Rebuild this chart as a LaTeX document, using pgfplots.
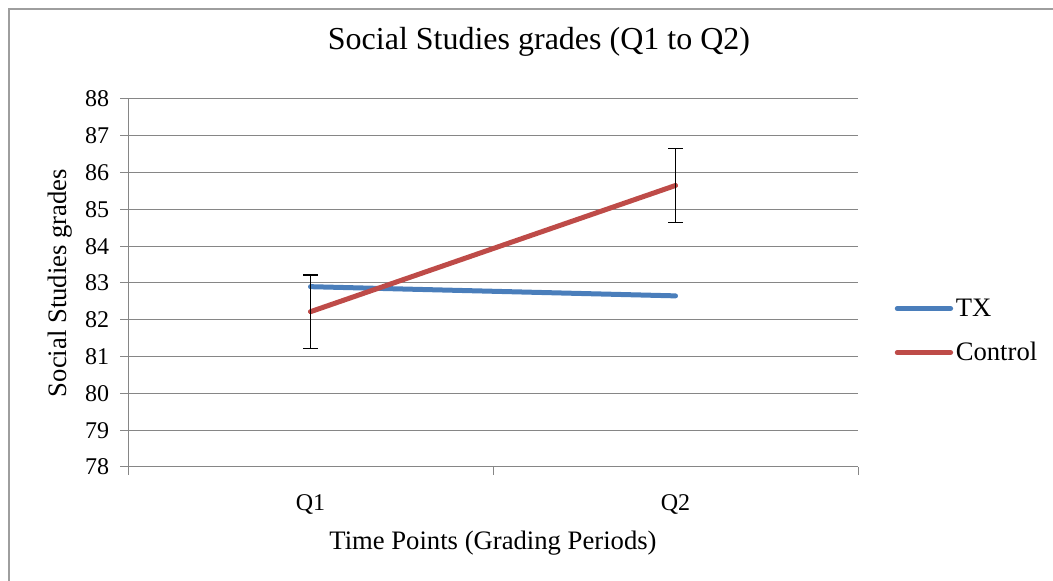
\documentclass[border=0pt]{standalone}
\usepackage{fontspec}
\setmainfont{Liberation Serif}
\usepackage{pgfplots}
\pgfplotsset{compat=1.18}
\definecolor{txblue}{HTML}{4A7EBB}
\definecolor{ctrlred}{HTML}{BE4B48}
\definecolor{gridgray}{HTML}{868686}
\begin{document}
\begin{tikzpicture}
\draw[color=gridgray!80, line width=1.1pt] (6.75pt,429pt) rectangle (810pt,-22pt);
\begin{axis}[at={(96pt,85.5pt)}, anchor=south west, scale only axis,
  width=547.5pt, height=276pt,
  xmin=0.5, xmax=2.5, ymin=78, ymax=88, ytick={78,...,88},
  xtick={1,2}, xticklabels={Q1,Q2},
  major x tick style={draw=none},
  minor xtick={0.5,1.5,2.5}, minor tick length=6pt,
  minor x tick style={draw=gridgray, line width=0.75pt},
  axis x line*=bottom, axis y line*=left,
  axis line style={draw=gridgray, line width=0.75pt, -},
  ymajorgrids, grid style={gridgray, line width=0.75pt},
  tick align=outside, major tick length=6pt,
  tick style={gridgray, line width=0.75pt},
  /pgf/number format/assume math mode=true,
  tick label style={font=\fontsize{18}{21.6}\selectfont, black},
  yticklabel style={inner sep=0pt, xshift=-8pt},
  xticklabel style={yshift=-11pt},
  title={Social Studies grades (Q1 to Q2)},
  title style={at={(axis description cs:0.563,1.133)}, anchor=center, font=\fontsize{24}{28.8}\selectfont},
  xlabel={Time Points (Grading Periods)},
  xlabel style={at={(axis description cs:0.5,-0.206)}, anchor=center, font=\fontsize{20}{24}\selectfont},
  ylabel={Social Studies grades},
  ylabel style={at={(axis description cs:-0.093,0.5)}, anchor=center, font=\fontsize{20}{24}\selectfont},
  legend image code/.code={\draw[#1, line cap=round] (0pt,0pt) -- (40pt,0pt);},
  legend style={draw=none, fill=none, at={(1.05,0.37)}, anchor=west,
    font=\fontsize{20}{24}\selectfont, row sep=14pt, inner sep=0pt},
  legend cell align=left,
]
\addplot[txblue, line width=3.75pt, line cap=round, forget plot] coordinates {(1,82.9) (2,82.65)};
\addplot[ctrlred, line width=3.75pt, line cap=round, forget plot,
  error bars/.cd, y dir=both, y explicit,
  error bar style={black, line width=1.1pt, line cap=butt},
  error mark options={black, mark size=5.5pt, line width=1.1pt, rotate=90}]
  table[x=x, y=y, y error=e] {
x y e
1 82.22 1
2 85.65 1
};
\addlegendimage{txblue, line width=3.75pt}
\addlegendentry{TX}
\addlegendimage{ctrlred, line width=3.75pt}
\addlegendentry{Control}
\end{axis}
\pgfresetboundingbox
\path[use as bounding box] (0pt,0pt) rectangle (789.75pt,435.75pt);
\end{tikzpicture}
\end{document}
